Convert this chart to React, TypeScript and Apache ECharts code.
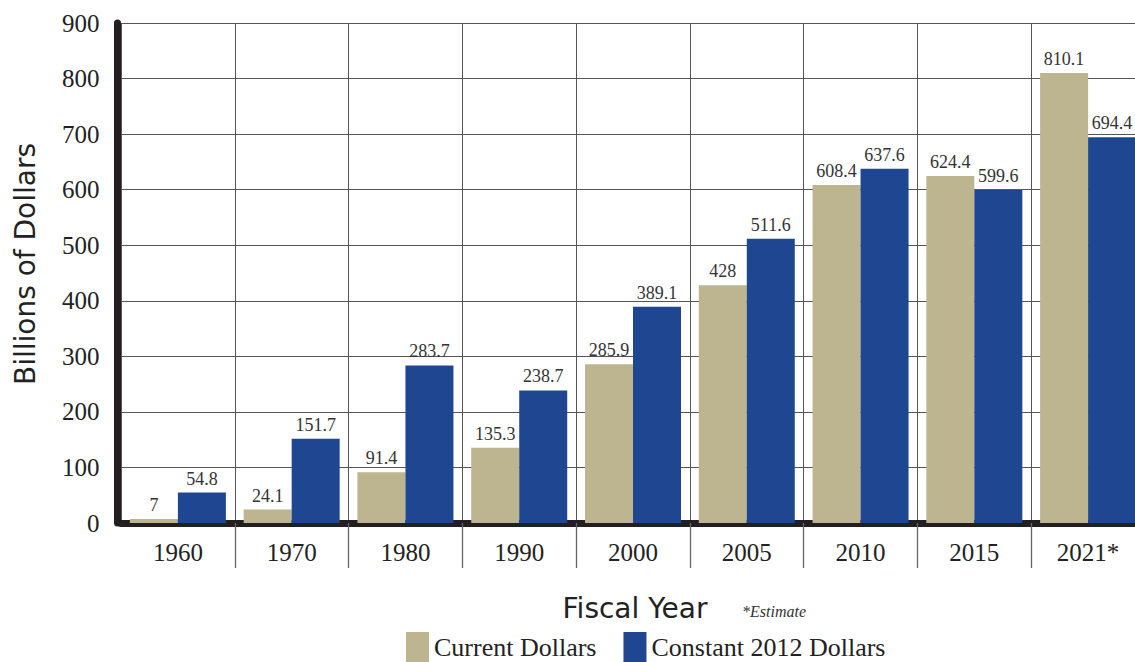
import React, { useEffect, useRef } from "react";
import * as echarts from "echarts";

const categories = ["1960", "1970", "1980", "1990", "2000", "2005", "2010", "2015", "2021*"];
const currentDollars = [7, 24.1, 91.4, 135.3, 285.9, 428, 608.4, 624.4, 810.1];
const constant2012Dollars = [54.8, 151.7, 283.7, 238.7, 389.1, 511.6, 637.6, 599.6, 694.4];
const yTicks = { min: 0, max: 900, interval: 100 };

const SERIF = "Liberation Serif";
const SANS = "DejaVu Sans";
const TAN = "#bdb490";
const BLUE = "#1f4690";

export default function App() {
  const ref = useRef<HTMLDivElement>(null);
  useEffect(() => {
    if (!ref.current) return;
    const chart = echarts.init(ref.current, null, { renderer: "svg" });
    const labelStyle = {
      show: true,
      position: "top" as const,
      distance: 5,
      fontFamily: SERIF,
      fontSize: 18,
      color: "#333",
    };
    chart.setOption({
      animation: false,
      backgroundColor: "#fff",
      grid: { left: 121, top: 23, width: 1024, height: 500 },
      legend: {
        left: 406,
        top: 632,
        padding: 0,
        itemWidth: 23,
        itemHeight: 30,
        itemGap: 27,
        icon: "rect",
        textStyle: { fontFamily: SERIF, fontSize: 26, lineHeight: 25, color: "#222" },
        data: ["Current Dollars", "Constant 2012 Dollars"],
      },
      xAxis: {
        type: "category",
        data: categories,
        offset: 4,
        axisLine: { show: true, lineStyle: { color: "#231f20", width: 7 } },
        axisTick: {
          show: true,
          length: 45,
          interval: (i: number) => i > 0,
          lineStyle: { color: "#666", width: 1.3 },
        },
        axisLabel: {
          fontFamily: SERIF,
          fontSize: 25,
          color: "#222",
          margin: 13,
        },
        splitLine: { show: true, lineStyle: { color: "#555", width: 1 } },
      },
      yAxis: {
        type: "value",
        min: yTicks.min,
        max: yTicks.max,
        interval: yTicks.interval,
        offset: 3.5,
        axisLine: { show: true, lineStyle: { color: "#231f20", width: 7 } },
        axisTick: { show: false },
        axisLabel: {
          fontFamily: SERIF,
          fontSize: 25,
          color: "#222",
          margin: 18,
        },
        splitLine: { show: true, lineStyle: { color: "#555", width: 1 } },
      },
      graphic: [
        {
          type: "text",
          x: 25,
          y: 264,
          rotation: Math.PI / 2,
          style: {
            text: "Billions of Dollars",
            fontFamily: SANS,
            fontSize: 28,
            fill: "#222",
            textAlign: "center",
            textVerticalAlign: "middle",
          },
        },
        {
          type: "text",
          x: 635,
          y: 608,
          style: {
            text: "Fiscal Year",
            fontFamily: SANS,
            fontSize: 28,
            fill: "#222",
            textAlign: "center",
            textVerticalAlign: "middle",
          },
        },
        {
          type: "text",
          x: 742,
          y: 611,
          style: {
            text: "*Estimate",
            fontFamily: SERIF,
            fontSize: 16,
            fontStyle: "italic",
            fill: "#333",
            textAlign: "left",
            textVerticalAlign: "middle",
          },
        },
      ],
      series: [
        {
          name: "Current Dollars",
          type: "bar",
          data: currentDollars,
          barWidth: 48,
          barGap: "0%",
          itemStyle: { color: TAN },
          label: labelStyle,
        },
        {
          name: "Constant 2012 Dollars",
          type: "bar",
          data: constant2012Dollars,
          barWidth: 48,
          barGap: "0%",
          itemStyle: { color: BLUE },
          label: labelStyle,
        },
      ],
    });
    return () => chart.dispose();
  }, []);
  return (
    <div
      style={{ position: "fixed", left: 0, top: 0, width: 1135, height: 662, overflow: "hidden", background: "#fff" }}
    >
      <div ref={ref} style={{ width: 1160, height: 662 }} />
    </div>
  );
}
